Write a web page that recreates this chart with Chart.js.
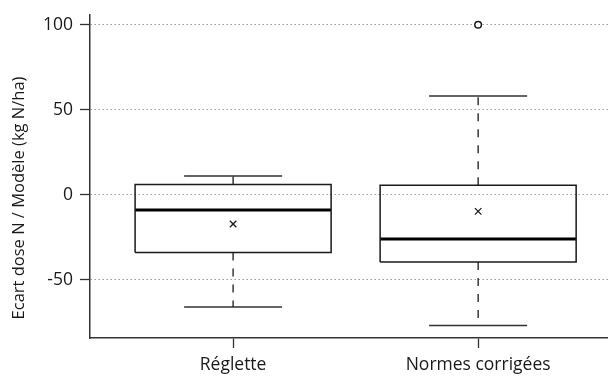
<!DOCTYPE html>
<html>
<head>
<meta charset="utf-8">
<script src="https://cdn.jsdelivr.net/npm/chart.js@4/dist/chart.umd.min.js"></script>
<style>
  html, body { margin: 0; padding: 0; background: #fff; }
  #wrap { width: 608px; height: 376px; }
  canvas { display: block; }
</style>
</head>
<body>
<div id="wrap"><canvas id="c" width="608" height="376"></canvas></div>
<script>
// Box-plot summary per method (kg N/ha)
const categories   = ['Réglette', 'Normes corrigées'];
const whiskerLow   = [-66, -77];
const quartile1    = [-34, -39.6];
const medians      = [-9, -26];
const quartile3    = [6, 5.5];
const whiskerHigh  = [11, 58];
const means        = [-17.2, -9.8];
const outliers     = [[], [100]];
const yTicks       = [-50, 0, 50, 100];
const yTitle       = 'Ecart dose N / Modèle (kg N/ha)';

const BOX_HALF = 0.4;   // half box width, in category units
const CAP_HALF = 0.2;   // half whisker-cap width
const GAP = { x: null, y: null };
const INK = '#1a1a1a';
const FONT = 'Open Sans';

// Build line paths from the summary arrays
const boxPts = [], medPts = [], whiskPts = [], capPts = [], meanPts = [], outPts = [];
categories.forEach((c, i) => {
  const x = i + 1;
  boxPts.push({x: x - BOX_HALF, y: quartile1[i]}, {x: x + BOX_HALF, y: quartile1[i]},
              {x: x + BOX_HALF, y: quartile3[i]}, {x: x - BOX_HALF, y: quartile3[i]},
              {x: x - BOX_HALF, y: quartile1[i]}, GAP);
  medPts.push({x: x - BOX_HALF, y: medians[i]}, {x: x + BOX_HALF, y: medians[i]}, GAP);
  whiskPts.push({x: x, y: quartile3[i]}, {x: x, y: whiskerHigh[i]}, GAP,
                {x: x, y: quartile1[i]}, {x: x, y: whiskerLow[i]}, GAP);
  capPts.push({x: x - CAP_HALF, y: whiskerHigh[i]}, {x: x + CAP_HALF, y: whiskerHigh[i]}, GAP,
              {x: x - CAP_HALF, y: whiskerLow[i]}, {x: x + CAP_HALF, y: whiskerLow[i]}, GAP);
  meanPts.push({x: x, y: means[i]});
  outliers[i].forEach(v => outPts.push({x: x, y: v}));
});

const lineDs = (data, extra) => Object.assign({
  type: 'scatter', data, showLine: true, spanGaps: false,
  borderColor: INK, borderWidth: 1.3, pointRadius: 0, pointHoverRadius: 0,
  borderJoinStyle: 'miter', borderCapStyle: 'butt', fill: false
}, extra);

// y-axis title drawn along the left edge
const yTitlePlugin = {
  id: 'yTitle',
  afterDraw(chart) {
    const ctx = chart.ctx;
    ctx.save();
    ctx.translate(19.5, 198);
    ctx.rotate(-Math.PI / 2);
    ctx.font = '16.5px "' + FONT + '"';
    ctx.fillStyle = INK;
    ctx.textAlign = 'center';
    ctx.textBaseline = 'middle';
    ctx.fillText(yTitle, 0, 0);
    ctx.restore();
  }
};

const noPad = s => { s.paddingLeft = 0; s.paddingRight = 0; s.paddingTop = 0; s.paddingBottom = 0; };

new Chart(document.getElementById('c'), {
  type: 'scatter',
  data: {
    datasets: [
      lineDs(whiskPts, { borderDash: [8, 8], borderWidth: 1.3 }),
      lineDs(capPts, { borderWidth: 1.5, borderColor: '#333' }),
      lineDs(boxPts, { borderWidth: 1.5 }),
      lineDs(medPts, { borderWidth: 3, borderColor: '#000' }),
      { type: 'scatter', data: meanPts, pointStyle: 'crossRot', pointRadius: 4.6,
        borderColor: INK, borderWidth: 1.3, backgroundColor: INK },
      { type: 'scatter', data: outPts, pointStyle: 'circle', pointRadius: 3.3,
        borderColor: INK, borderWidth: 1.5, backgroundColor: '#fff' }
    ]
  },
  options: {
    responsive: false,
    animation: false,
    events: [],
    layout: { autoPadding: false, padding: { top: 15, right: 0, left: 0, bottom: 0 } },
    plugins: { legend: { display: false }, tooltip: { enabled: false }, title: { display: false } },
    scales: {
      x: {
        type: 'linear', min: 0.416, max: 2.53,
        afterBuildTicks: s => { s.ticks = categories.map((c, i) => ({ value: i + 1 })); },
        afterFit: s => { s.height = 38; noPad(s); },
        ticks: {
          callback: v => categories[Math.round(v) - 1],
          font: { family: FONT, size: 17.5 }, color: INK, padding: 7, maxRotation: 0, autoSkip: false
        },
        grid: { drawOnChartArea: false, drawTicks: true, tickLength: 10, tickColor: '#333', tickWidth: 1.3 },
        border: { display: true, color: '#333', width: 1.5 }
      },
      y: {
        type: 'linear', min: -84.3, max: 105.7,
        afterBuildTicks: s => { s.ticks = yTicks.map(v => ({ value: v })); },
        afterFit: s => { s.width = 90; noPad(s); },
        ticks: { font: { family: FONT, size: 17.5 }, color: INK, padding: 7 },
        grid: { color: '#9a9a9a', lineWidth: 1, drawTicks: true, tickLength: 10,
                tickColor: '#333', tickWidth: 1.3, tickBorderDash: [] },
        border: { display: true, color: '#333', width: 1.5, dash: [1.5, 2.5] }
      }
    }
  },
  plugins: [yTitlePlugin]
});
</script>
</body>
</html>
